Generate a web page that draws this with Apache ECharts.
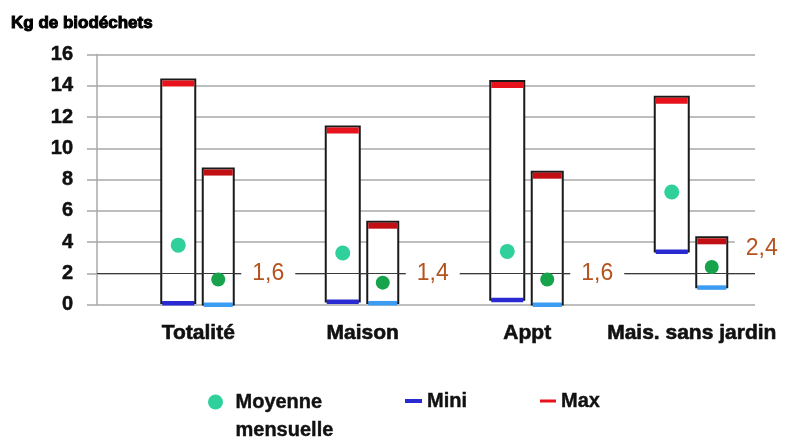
<!DOCTYPE html>
<html>
<head>
<meta charset="utf-8">
<script src="https://cdn.jsdelivr.net/npm/echarts@6/dist/echarts.min.js"></script>
<style>
  html, body { margin: 0; padding: 0; background: #fff; }
  #chart { width: 787px; height: 439px; }
</style>
</head>
<body>
<div id="chart"></div>
<script>
// Household groups on the x axis
const categories = ['Totalité', 'Maison', 'Appt', 'Mais. sans jardin'];

// First box of each pair (kg of bio-waste)
const maxA  = [14.4, 11.4, 14.3, 13.3];
const minA  = [0.1, 0.2, 0.3, 3.4];
const meanA = [3.8, 3.3, 3.4, 7.2];

// Second box of each pair
const maxB  = [8.7, 5.3, 8.5, 4.3];
const minB  = [0.0, 0.1, 0.0, 1.1];
const meanB = [1.6, 1.4, 1.6, 2.4];

// Y axis ticks
const yTicks = [0, 2, 4, 6, 8, 10, 12, 14, 16];

// ---- styling ----
const FONT = "'Liberation Sans', Arial, sans-serif";
const boxStyle = [
  { dx: -20, w: 34, red: '#e8121c', blue: '#2a2ad2', green: '#2fd09b', dot: 15 },
  { dx: 20,  w: 31, red: '#c10f14', blue: '#3b9cf2', green: '#17a24c', dot: 14 }
];
const calloutDx = 70;                 // callout text right of the pair
const calloutLevel = [2, 2, 2, 3.6];  // callout baseline level per group

const fmt = v => v.toFixed(1).replace('.', ',');

function boxSeries(maxs, mins, st) {
  return {
    type: 'custom', name: 'box', xAxisIndex: 1, yAxisIndex: 1, z: 3, silent: true,
    data: categories.map((c, i) => [i, mins[i], maxs[i]]),
    renderItem: (params, api) => {
      const top = api.coord([api.value(0), api.value(2)]);
      const bot = api.coord([api.value(0), api.value(1)]);
      return {
        type: 'rect',
        shape: { x: top[0] + st.dx - st.w / 2, y: top[1], width: st.w, height: bot[1] - top[1] },
        style: { fill: '#fff', stroke: '#1a1a1a', lineWidth: 2 }
      };
    }
  };
}

function maxSeries(maxs, st) {
  return {
    type: 'custom', name: 'Max', xAxisIndex: 1, yAxisIndex: 1, z: 4, silent: true,
    itemStyle: { color: st.red },
    data: categories.map((c, i) => [i, maxs[i]]),
    renderItem: (params, api) => {
      const p = api.coord([api.value(0), api.value(1)]);
      return {
        type: 'rect',
        shape: { x: p[0] + st.dx - st.w / 2 + 1, y: p[1] + 1, width: st.w - 2, height: 6 },
        style: { fill: st.red }
      };
    }
  };
}

function minSeries(mins, st) {
  return {
    type: 'custom', name: 'Mini', xAxisIndex: 1, yAxisIndex: 1, z: 4, silent: true,
    itemStyle: { color: st.blue },
    data: categories.map((c, i) => [i, mins[i]]),
    renderItem: (params, api) => {
      const p = api.coord([api.value(0), api.value(1)]);
      return {
        type: 'rect',
        shape: { x: p[0] + st.dx - st.w / 2 + 1, y: p[1] - 2, width: st.w - 2, height: 4.5 },
        style: { fill: st.blue }
      };
    }
  };
}

function meanSeries(means, st) {
  return {
    type: 'scatter', name: 'Moyenne mensuelle', xAxisIndex: 1, yAxisIndex: 1, z: 5, silent: true,
    symbol: 'circle', symbolSize: st.dot, symbolOffset: [st.dx, 0],
    itemStyle: { color: st.green, opacity: 1 },
    data: categories.map((c, i) => [i, means[i]])
  };
}

const calloutSeries = {
  type: 'custom', name: 'callout', xAxisIndex: 1, yAxisIndex: 1, z: 6, silent: true,
  data: categories.map((c, i) => [i, calloutLevel[i], meanB[i]]),
  renderItem: (params, api) => {
    const p = api.coord([api.value(0), api.value(1)]);
    return {
      type: 'text',
      x: p[0] + calloutDx, y: p[1],
      style: {
        text: fmt(api.value(2)),
        fontFamily: FONT, fontSize: 23, fill: '#b4531e',
        align: 'center', verticalAlign: 'middle',
        backgroundColor: '#fff', padding: [2, 11, 0, 11]
      }
    };
  }
};

const chart = echarts.init(document.getElementById('chart'), null, { renderer: 'canvas' });

const legendText = {
  fontFamily: FONT, fontSize: 20, fontWeight: 'bold', color: '#111', lineHeight: 28,
  textBorderColor: '#111', textBorderWidth: 0.4
};

chart.setOption({
  animation: false,
  backgroundColor: '#fff',
  title: {
    text: 'Kg de biodéchets', left: 11, top: 15, padding: 0,
    textStyle: {
      fontFamily: FONT, fontSize: 17, fontWeight: 'bold', color: '#000',
      textBorderColor: '#000', textBorderWidth: 1, letterSpacing: -0.6
    }
  },
  grid: [
    { left: 97, right: 32, top: 54.5, bottom: 134.5 },
    { left: 116, right: 13, top: 54.5, bottom: 134.5 }
  ],
  xAxis: [
    { type: 'value', gridIndex: 0, min: 0, max: 1, show: false },
    {
      type: 'category', gridIndex: 1, data: categories, boundaryGap: true,
      axisLine: { show: false }, axisTick: { show: false },
      axisLabel: {
        margin: 18, fontFamily: FONT, fontSize: 21, fontWeight: 'bold', color: '#111',
        textBorderColor: '#111', textBorderWidth: 0.6, interval: 0
      }
    }
  ],
  yAxis: [
    {
      type: 'value', gridIndex: 0, min: yTicks[0], max: yTicks[yTicks.length - 1], interval: yTicks[1] - yTicks[0],
      axisLine: { show: true, lineStyle: { color: '#a8a8a8', width: 1.5 } },
      axisTick: { show: true, length: 10, lineStyle: { color: '#a8a8a8', width: 1.5 } },
      splitLine: { show: true, lineStyle: { color: '#a8a8a8', width: 1.5 } },
      axisLabel: {
        margin: 24, fontFamily: FONT, fontSize: 20, fontWeight: 'bold', color: '#111',
        textBorderColor: '#111', textBorderWidth: 0.5
      }
    },
    {
      type: 'value', gridIndex: 1, min: yTicks[0], max: yTicks[yTicks.length - 1], show: false
    }
  ],
  legend: [
    {
      data: ['Moyenne mensuelle'], left: 208, top: 360, padding: 0, icon: 'circle',
      itemWidth: 30, itemHeight: 15, selectedMode: false,
      formatter: () => '{e| }\n{a|Moyenne}\n{a|mensuelle}',
      textStyle: Object.assign({}, legendText, {
        rich: {
          e: { lineHeight: 28, fontSize: 20 },
          a: { lineHeight: 28, fontSize: 20, fontWeight: 'bold', fontFamily: FONT, color: '#111',
               textBorderColor: '#111', textBorderWidth: 0.4 }
        }
      })
    },
    {
      data: ['Mini'], left: 405, top: 387, padding: 0, icon: 'rect',
      itemWidth: 17, itemHeight: 4, selectedMode: false, textStyle: legendText
    },
    {
      data: ['Max'], left: 540, top: 387, padding: 0, icon: 'rect',
      itemWidth: 16, itemHeight: 3, selectedMode: false, textStyle: legendText
    }
  ],
  series: [
    {
      type: 'line', name: 'level2', xAxisIndex: 0, yAxisIndex: 0, z: 1, silent: true,
      data: [],
      markLine: {
        silent: true, symbol: 'none', animation: false,
        label: { show: false },
        lineStyle: { color: '#3a3a3a', width: 1, type: 'solid' },
        data: [{ yAxis: 2 }]
      }
    },
    boxSeries(maxA, minA, boxStyle[0]),
    boxSeries(maxB, minB, boxStyle[1]),
    maxSeries(maxA, boxStyle[0]),
    maxSeries(maxB, boxStyle[1]),
    minSeries(minA, boxStyle[0]),
    minSeries(minB, boxStyle[1]),
    meanSeries(meanA, boxStyle[0]),
    meanSeries(meanB, boxStyle[1]),
    calloutSeries
  ]
});
</script>
</body>
</html>
